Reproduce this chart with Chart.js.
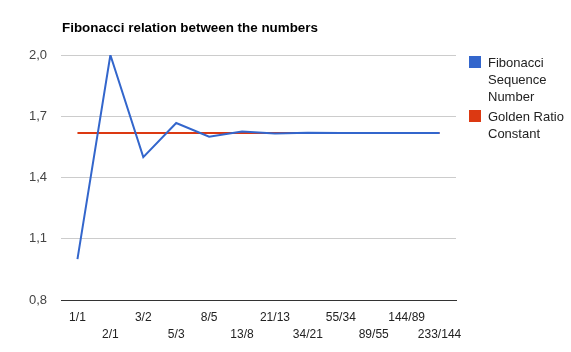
<!DOCTYPE html>
<html>
<head>
<meta charset="utf-8">
<script src="https://cdn.jsdelivr.net/npm/chart.js@4"></script>
<style>
    html, body { margin: 0; padding: 0; background: #fff; }
    #wrap { position: relative; width: 571px; height: 352px; font-family: Arial, "Liberation Sans", sans-serif; }
    #title { position: absolute; left: 62px; top: 20px; font-size: 13.4px; font-weight: bold; color: #000; }
    #legend { position: absolute; left: 469px; top: 54px; font-size: 13px; color: #222; }
    .item { position: relative; padding-left: 19px; line-height: 17px; margin-bottom: 3px; }
    .box { position: absolute; left: 0; top: 2px; width: 12px; height: 12px; }
</style>
</head>
<body>
<div id="wrap">
    <canvas id="chart" width="571" height="352"></canvas>
    <div id="title">Fibonacci relation between the numbers</div>
    <div id="legend"></div>
</div>
<script>
// Fibonacci ratios vs golden ratio
const categories = ['1/1', '2/1', '3/2', '5/3', '8/5', '13/8', '21/13', '34/21', '55/34', '89/55', '144/89', '233/144'];
const fibValues = [1, 2, 1.5, 1.667, 1.6, 1.625, 1.615, 1.619, 1.618, 1.618, 1.618, 1.618];
const goldenValues = [1.618, 1.618, 1.618, 1.618, 1.618, 1.618, 1.618, 1.618, 1.618, 1.618, 1.618, 1.618];
const yTicks = [0.8, 1.1, 1.4, 1.7, 2.0];
const seriesNames = [['Fibonacci', 'Sequence', 'Number'], ['Golden Ratio', 'Constant']];
const seriesColors = ['#3366cc', '#dc3912'];

const font = { family: 'Arial, "Liberation Sans", sans-serif', size: 13 };

const chart = new Chart(document.getElementById('chart').getContext('2d'), {
    type: 'line',
    data: {
        labels: categories,
        datasets: [
            { label: seriesNames[0].join(' '), data: fibValues, borderColor: seriesColors[0], backgroundColor: seriesColors[0], borderWidth: 2, pointRadius: 0, tension: 0 },
            { label: seriesNames[1].join(' '), data: goldenValues, borderColor: seriesColors[1], backgroundColor: seriesColors[1], borderWidth: 2, pointRadius: 0, tension: 0 }
        ]
    },
    options: {
        responsive: false,
        animation: false,
        layout: { padding: { left: 0, right: 115, top: 55, bottom: 0 } },
        plugins: {
            legend: { display: false },
            title: { display: false },
            tooltip: { enabled: false }
        },
        scales: {
            x: {
                offset: true,
                grid: { display: false },
                border: { display: true, color: '#333', width: 1 },
                ticks: {
                    color: '#222',
                    font: { family: font.family, size: 12, lineHeight: 1.4 },
                    padding: 1,
                    autoSkip: false,
                    maxRotation: 0,
                    minRotation: 0,
                    // stagger labels on two rows
                    callback: function(value, index) {
                        const lbl = categories[index];
                        return index % 2 === 0 ? lbl : ['', lbl];
                    }
                },
                afterFit: function(scale) { scale.height = 52; }
            },
            y: {
                min: 0.8,
                max: 2.0,
                grid: {
                    color: ctx => ctx.tick && Math.abs(ctx.tick.value - 0.8) < 1e-6 ? '#333' : '#cccccc',
                    drawTicks: false
                },
                border: { display: false },
                ticks: {
                    color: '#444',
                    font: font,
                    padding: 14,
                    callback: v => v.toFixed(1).replace('.', ',')
                },
                afterBuildTicks: function(scale) {
                    scale.ticks = yTicks.map(v => ({ value: v }));
                },
                afterFit: function(scale) { scale.width = 61; }
            }
        }
    }
});

// HTML legend built from the datasets
const legendEl = document.getElementById('legend');
chart.data.datasets.forEach((ds, i) => {
    const item = document.createElement('div');
    item.className = 'item';
    item.innerHTML = '<span class="box" style="background:' + ds.borderColor + '"></span>' + seriesNames[i].join('<br>');
    legendEl.appendChild(item);
});
</script>
</body>
</html>
